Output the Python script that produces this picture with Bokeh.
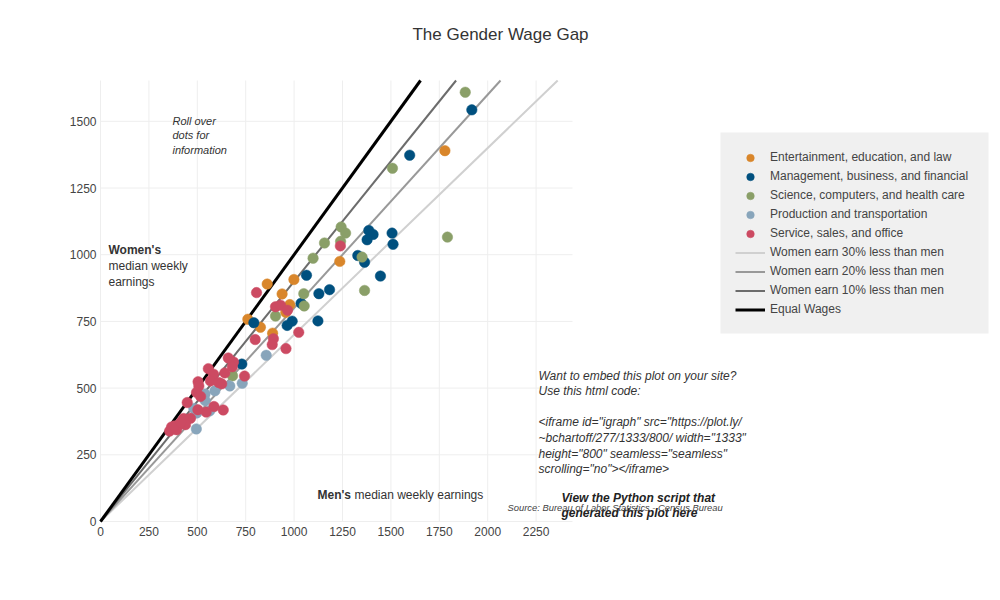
from bokeh.plotting import figure
from bokeh.models import Label, Legend, LegendItem, Range1d, BoxAnnotation
from bokeh.core.properties import value
from bokeh.embed import file_html
from bokeh.resources import INLINE

# ---------------- data (men's, women's median weekly earnings) ----------------
categories = ["Entertainment, education, and law",
              "Management, business, and financial",
              "Science, computers, and health care",
              "Production and transportation",
              "Service, sales, and office"]
colors = ["#d9862b", "#00507f", "#8a9f68", "#88a5bb", "#cc4a62"]

ent_men = [1779, 1236, 999, 861, 938, 978, 957, 761, 826, 889]
ent_women = [1390, 975, 907, 890, 853, 813, 784, 758, 728, 706]

mgmt_men = [1918, 1597, 1386, 1408, 1506, 1377, 1511, 1329, 1364, 1446,
            1064, 1128, 1183, 1036, 792, 990, 964, 1123, 730]
mgmt_women = [1543, 1373, 1091, 1076, 1081, 1056, 1039, 997, 972, 920,
              923, 854, 869, 818, 745, 751, 735, 752, 590]

sci_men = [1884, 1508, 1792, 1243, 1266, 1157, 1240, 1098, 1351, 1364,
           1050, 1052, 904, 682]
sci_women = [1609, 1324, 1066, 1104, 1081, 1044, 1050, 987, 991, 866,
             854, 808, 770, 546]

prod_men = [856, 732, 668, 591, 540, 541, 482, 497, 564, 495]
prod_women = [623, 518, 508, 490, 478, 453, 424, 407, 415, 347]

serv_men = [1239, 806, 904, 930, 966, 799, 893, 887, 958, 1024,
            660, 687, 681, 642, 744, 557, 584, 504, 508, 568,
            611, 626, 496, 517, 448, 634, 586, 546, 503, 465,
            429, 439, 405, 367, 357, 393, 380, 415]
serv_women = [1033, 858, 805, 811, 792, 682, 685, 663, 648, 709,
              613, 598, 580, 557, 545, 573, 552, 524, 508, 527,
              521, 516, 484, 469, 446, 418, 431, 410, 419, 387,
              386, 363, 362, 354, 339, 344, 358, 372]

series_men = [ent_men, mgmt_men, sci_men, prod_men, serv_men]
series_women = [ent_women, mgmt_women, sci_women, prod_women, serv_women]

gap_labels = ["Women earn 30% less than men", "Women earn 20% less than men",
              "Women earn 10% less than men", "Equal Wages"]
gap_ratios = [0.7, 0.8, 0.9, 1.0]
gap_colors = ["#d0d0d0", "#999999", "#6c6c6c", "#000000"]
gap_widths = [2, 2, 2, 3]

x_ticks = [0, 250, 500, 750, 1000, 1250, 1500, 1750, 2000, 2250]
y_ticks = [0, 250, 500, 750, 1000, 1250, 1500]
x_tick_labels = [str(t) for t in x_ticks]
y_tick_labels = [str(t) for t in y_ticks]

# visible data area
X_MAX, Y_MAX = 2438, 1653

# page layout of the plotting area (pixels)
W, H = 1000, 600
AREA_L, AREA_R, AREA_T, AREA_B = 100, 572, 80, 521
SX = X_MAX / (AREA_R - AREA_L)
SY = Y_MAX / (AREA_B - AREA_T)

FONT = "Liberation Sans"
TXT = "#444444"

p = figure(width=W, height=H, output_backend="svg", toolbar_location=None,
           title=None, x_axis_location=None, y_axis_location=None,
           x_range=Range1d(-AREA_L * SX, X_MAX + (W - AREA_R) * SX),
           y_range=Range1d(-(H - AREA_B) * SY, Y_MAX + AREA_T * SY),
           min_border=0)
p.outline_line_color = None
p.background_fill_color = "white"
p.border_fill_color = "white"
p.xgrid.visible = False
p.ygrid.visible = False


def dx(px):
    return (px - AREA_L) * SX


def dy(py):
    return (AREA_B - py) * SY


# grid lines limited to the plotting area
p.segment(x0=x_ticks, y0=[0] * len(x_ticks), x1=x_ticks, y1=[Y_MAX] * len(x_ticks),
          line_color="#eeeeee", line_width=1)
p.segment(x0=[0] * len(y_ticks), y0=y_ticks, x1=[X_MAX] * len(y_ticks), y1=y_ticks,
          line_color="#eeeeee", line_width=1)

# tick labels
p.text(x=x_ticks, y=[dy(531)] * len(x_ticks), text=x_tick_labels,
       text_font=value(FONT), text_font_size="12px", text_color=TXT,
       text_align="center", text_baseline="middle")
p.text(x=[dx(96)] * len(y_ticks), y=y_ticks, text=y_tick_labels,
       text_font=value(FONT), text_font_size="12px", text_color=TXT,
       text_align="right", text_baseline="middle")

# reference lines (women = ratio * men), ending at the top of the area
line_renderers = []
for r, c, w in zip(gap_ratios, gap_colors, gap_widths):
    x_end = min(X_MAX, Y_MAX / r)
    line_renderers.append(p.line([0, x_end], [0, r * x_end], line_color=c, line_width=w))

# points
point_renderers = []
for men, women, c in zip(series_men, series_women, colors):
    point_renderers.append(p.scatter(men, women, size=10.5, fill_color=c,
                                     line_color=c, line_width=0.5))

# legend box background
p.add_layout(BoxAnnotation(left=dx(720), right=dx(988), top=dy(132), bottom=dy(333),
                           fill_color="#f0f0f0", fill_alpha=1, line_color=None,
                           level="underlay"))

items = [LegendItem(label=lab, renderers=[r]) for lab, r in zip(categories, point_renderers)]
items += [LegendItem(label=lab, renderers=[r]) for lab, r in zip(gap_labels, line_renderers)]
legend = Legend(items=items, location=(735, H - 318.5), orientation="vertical",
                background_fill_alpha=0, border_line_color=None,
                padding=0, margin=0, spacing=0,
                glyph_width=30, glyph_height=19, label_height=19,
                label_standoff=5, label_text_font=FONT,
                label_text_font_size="12px", label_text_color=TXT)
p.add_layout(legend, "center")


def add_text(txt, px, py, size="12px", style="normal", align="left", color=TXT):
    p.add_layout(Label(x=dx(px), y=dy(py), text=txt, text_font=FONT,
                       text_font_size=size, text_font_style=style,
                       text_align=align, text_baseline="middle",
                       text_color=color))


add_text("The Gender Wage Gap", 500, 34, size="17px", align="center", color="#333333")

for i, t in enumerate(["Roll over", "dots for", "information"]):
    add_text(t, 172, 120 + i * 14.5, size="11px", style="italic", color="#333333")

add_text("Women's", 108, 249, style="bold", color="#333333")
add_text("median weekly", 108, 265, color="#333333")
add_text("earnings", 108, 281, color="#333333")

add_text("Men's", 317, 494, style="bold", color="#333333")
add_text("median weekly earnings", 354, 494, color="#333333")

embed = ["Want to embed this plot on your site?", "Use this html code:", "",
         "<iframe id=\"igraph\" src=\"https://plot.ly/",
         "~bchartoff/277/1333/800/ width=\"1333\"",
         "height=\"800\" seamless=\"seamless\"",
         "scrolling=\"no\"></iframe>"]
for i, t in enumerate(embed):
    if t:
        add_text(t, 538, 375 + i * 15.6, style="italic", color="#333333")

add_text("View the Python script that", 561, 497, style="bold italic", color="#222222")
add_text("generated this plot here", 561, 512, style="bold italic", color="#222222")
add_text("Source: Bureau of Labor Statistics - Census Bureau", 507, 507,
         size="9.4px", style="italic", color="#444444")

open("out.html", "w").write(file_html(p, INLINE))
